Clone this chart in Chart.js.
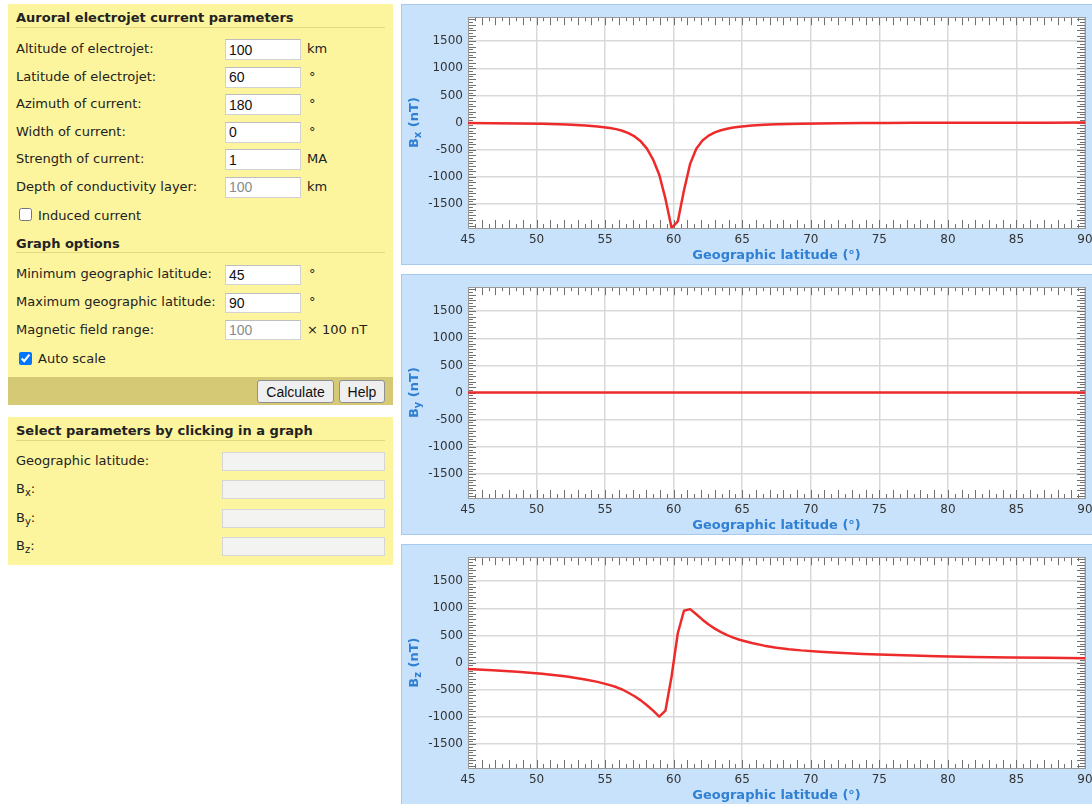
<!DOCTYPE html>
<html>
<head>
<meta charset="utf-8">
<title>Auroral electrojet</title>
<script src="https://cdn.jsdelivr.net/npm/chart.js@4.4.1/dist/chart.umd.min.js"></script>
<style>
html, body { margin:0; padding:0; background:#fff; width:1092px; height:804px; overflow:hidden; }
body { position:relative; font-family:"DejaVu Sans", Verdana, sans-serif; font-size:13px; color:#222; }
.panel { position:absolute; left:8px; width:385px; background:#fdf59e; }
.strip { position:absolute; left:8px; width:385px; background:#d5c975; }
.hdr { position:absolute; left:16px; font-weight:bold; line-height:16px; white-space:nowrap; }
.rule { position:absolute; left:16px; width:369px; height:1px; background:#e2d67e; }
.lbl { position:absolute; left:16px; line-height:16px; white-space:nowrap; }
.unit { position:absolute; left:307px; line-height:16px; white-space:nowrap; }
.in { position:absolute; left:225px; width:76px; height:21px; box-sizing:border-box; margin:0;
      border:1px solid #d2d2d2; border-top-color:#bdbdbd; background:#fff; color:#111;
      font:14px "Liberation Sans", Arial, sans-serif; padding:1px 3px; outline:none; }
.in.dim { color:#8a8a8a; }
.out { position:absolute; left:222px; width:163px; height:19px; box-sizing:border-box; margin:0;
       border:1px solid #d6d6d6; background:#f3f3f1; }
.cb { position:absolute; left:19px; width:13px; height:13px; margin:0; }
.btn { position:absolute; top:380px; height:23px; box-sizing:border-box; margin:0; padding:0 6px;
       font:14px "Liberation Sans", Arial, sans-serif; color:#111; background:#efefef;
       border:1px solid #8f8f8f; border-radius:3px; }
.box { position:absolute; left:401px; width:700px; box-sizing:border-box; background:#c8e2fb; border:1px solid #a7c9ec; }
canvas.plot { position:absolute; left:402px; }
sub { font-size:10px; vertical-align:-3px; line-height:0; }
</style>
</head>
<body>

<!-- parameter form -->
<div class="panel" style="top:4px;height:401px;"></div>
<div class="strip" style="top:377px;height:28px;"></div>
<div class="hdr" style="top:10px;">Auroral electrojet current parameters</div>
<div class="rule" style="top:27px;"></div>

<div class="lbl" style="top:41px;">Altitude of electrojet:</div>
<input class="in" style="top:39px;" value="100"><div class="unit" style="top:41px;">km</div>
<div class="lbl" style="top:68.5px;">Latitude of electrojet:</div>
<input class="in" style="top:66.5px;" value="60"><div class="unit" style="top:68.5px;left:309px;">°</div>
<div class="lbl" style="top:96px;">Azimuth of current:</div>
<input class="in" style="top:94px;" value="180"><div class="unit" style="top:96px;left:309px;">°</div>
<div class="lbl" style="top:123.5px;">Width of current:</div>
<input class="in" style="top:121.5px;" value="0"><div class="unit" style="top:123.5px;left:309px;">°</div>
<div class="lbl" style="top:151px;">Strength of current:</div>
<input class="in" style="top:149px;" value="1"><div class="unit" style="top:151px;">MA</div>
<div class="lbl" style="top:178.5px;">Depth of conductivity layer:</div>
<input class="in dim" style="top:176.5px;" value="100"><div class="unit" style="top:178.5px;">km</div>

<input type="checkbox" class="cb" style="top:208px;">
<div class="lbl" style="top:208px;left:38px;">Induced current</div>

<div class="hdr" style="top:236px;">Graph options</div>
<div class="rule" style="top:252px;"></div>

<div class="lbl" style="top:266px;">Minimum geographic latitude:</div>
<input class="in" style="top:264.5px;height:20px;" value="45"><div class="unit" style="top:266px;left:309px;">°</div>
<div class="lbl" style="top:294px;">Maximum geographic latitude:</div>
<input class="in" style="top:292.5px;height:20px;" value="90"><div class="unit" style="top:294px;left:309px;">°</div>
<div class="lbl" style="top:321.5px;">Magnetic field range:</div>
<input class="in dim" style="top:320px;height:20px;" value="100"><div class="unit" style="top:321.5px;">× 100 nT</div>

<input type="checkbox" class="cb" style="top:352px;" checked>
<div class="lbl" style="top:351px;left:38px;">Auto scale</div>

<button class="btn" style="left:257px;width:77px;">Calculate</button>
<button class="btn" style="left:339px;width:46px;">Help</button>

<!-- readout form -->
<div class="panel" style="top:417px;height:148px;"></div>
<div class="hdr" style="top:423px;">Select parameters by clicking in a graph</div>
<div class="rule" style="top:440px;"></div>
<div class="lbl" style="top:453px;">Geographic latitude:</div>
<div class="out" style="top:451.5px;"></div>
<div class="lbl" style="top:481px;">B<sub>x</sub>:</div>
<div class="out" style="top:480px;"></div>
<div class="lbl" style="top:509.5px;">B<sub>y</sub>:</div>
<div class="out" style="top:508.5px;"></div>
<div class="lbl" style="top:538px;">B<sub>z</sub>:</div>
<div class="out" style="top:537px;"></div>

<!-- field component plots -->
<div class="box" style="top:4px;height:261px;"></div>
<div class="box" style="top:274px;height:261px;"></div>
<div class="box" style="top:544px;height:270px;"></div>
<canvas class="plot" id="cx" width="698" height="259" style="top:5px;"></canvas>
<canvas class="plot" id="cy" width="698" height="259" style="top:275px;"></canvas>
<canvas class="plot" id="cz" width="698" height="259" style="top:545px;"></canvas>

<script>
// Geographic latitude of each sample (degrees)
const lat = [45, 46.8, 48.6, 50.4, 52.2, 53.55, 54.45, 55.35, 55.8, 56.25, 56.7, 57.15, 57.6, 58.05,
             58.5, 58.95, 59.4, 59.85, 60.3, 60.75, 61.2, 61.65, 62.1, 62.55, 63, 63.45, 63.9, 64.35,
             64.8, 65.7, 66.6, 67.5, 68.4, 69.3, 70.65, 72, 73.8, 75.6, 77.4, 79.2, 81.9, 84.6, 87.3, 90];

// Northward component Bx (nT)
const bx = [-8, -11, -16, -23, -35, -52, -70, -98, -120, -150, -195, -255, -345, -480,
            -680, -960, -1400, -1940, -1820, -1250, -760, -480, -330, -240, -180, -140, -112, -92,
            -76, -55, -41, -31, -25, -20, -15, -11, -8, -6, -4, -3, -2, -1, -1, 0];

// Eastward component By (nT)
const byLat = [45, 90];
const by = [0, 0];

// Vertical component Bz (nT)
const bz = [-118, -140, -168, -205, -255, -310, -355, -415, -450, -495, -555, -620, -695, -785,
            -885, -995, -885, -250, 540, 955, 985, 890, 790, 700, 625, 560, 505, 460,
            420, 360, 312, 275, 247, 225, 200, 180, 160, 145, 130, 118, 105, 95, 87, 80];

// Axis limits and labelled ticks
const latMin = 45, latMax = 90;
const fieldMax = 1940;
const xTicks = [45, 50, 55, 60, 65, 70, 75, 80, 85, 90];
const yTicks = [-1500, -1000, -500, 0, 500, 1000, 1500];
const xMinorStep = 0.5;
const yMinorStep = 50;

const BLUE = '#2f7fd3';
const FONT = '"DejaVu Sans", Verdana, sans-serif';

// White plotting area behind the grid
const plotBg = {
  id: 'plotBg',
  beforeDraw(chart) {
    const { ctx, chartArea: a } = chart;
    ctx.save();
    ctx.fillStyle = '#ffffff';
    ctx.fillRect(a.left, a.top, a.right - a.left, a.bottom - a.top);
    ctx.restore();
  }
};

// Small inward tick marks on all four sides of the plot frame
const frameTicks = {
  id: 'frameTicks',
  beforeDatasetsDraw(chart) {
    const { ctx, chartArea: a, scales: { x, y } } = chart;
    ctx.save();
    ctx.strokeStyle = '#707070';
    ctx.lineWidth = 1;
    ctx.beginPath();
    const nx = Math.round((latMax - latMin) / xMinorStep);
    for (let i = 0; i <= nx; i++) {
      const v = latMin + i * xMinorStep;
      const px = Math.round(x.getPixelForValue(v)) + 0.5;
      const len = (i % 2 === 0) ? 8 : 4;
      ctx.moveTo(px, a.top); ctx.lineTo(px, a.top + len);
      ctx.moveTo(px, a.bottom); ctx.lineTo(px, a.bottom - len);
    }
    const ny = Math.floor(fieldMax / yMinorStep);
    for (let i = -ny; i <= ny; i++) {
      const v = i * yMinorStep;
      const py = Math.round(y.getPixelForValue(v)) + 0.5;
      const len = (i % 2 === 0) ? 8 : 5;
      ctx.moveTo(a.left, py); ctx.lineTo(a.left + len, py);
      ctx.moveTo(a.right, py); ctx.lineTo(a.right - len, py);
    }
    ctx.stroke();
    ctx.strokeStyle = '#9a9a9a';
    ctx.strokeRect(Math.round(a.left) + 0.5, Math.round(a.top) + 0.5,
                   Math.round(a.right - a.left), Math.round(a.bottom - a.top));
    ctx.restore();
  }
};

// Rotated y-axis title with a subscripted component letter
const yTitle = {
  id: 'yTitle',
  afterDraw(chart, args, opts) {
    const { ctx, chartArea: a } = chart;
    const big = 'bold 13px ' + FONT, small = 'bold 10px ' + FONT;
    ctx.save();
    ctx.fillStyle = BLUE;
    ctx.textBaseline = 'alphabetic';
    ctx.font = big;  const wB = ctx.measureText('B').width;
    const wU = ctx.measureText(' (nT)').width;
    ctx.font = small; const wS = ctx.measureText(opts.sub).width;
    const total = wB + wS + wU;
    ctx.translate(opts.x, (a.top + a.bottom) / 2);
    ctx.rotate(-Math.PI / 2);
    let cx = -total / 2;
    ctx.font = big;  ctx.fillText('B', cx, 5); cx += wB;
    ctx.font = small; ctx.fillText(opts.sub, cx, 8); cx += wS;
    ctx.font = big;  ctx.fillText(' (nT)', cx, 5);
    ctx.restore();
  }
};

function makeChart(id, xs, ys, sub) {
  const pts = xs.map((v, i) => ({ x: v, y: ys[i] }));
  return new Chart(document.getElementById(id), {
    type: 'line',
    data: { datasets: [{ data: pts, borderColor: '#ee2b2b', borderWidth: 2.5,
                         pointRadius: 0, tension: 0, fill: false,
                         borderJoinStyle: 'round', borderCapStyle: 'round' }] },
    options: {
      responsive: false,
      animation: false,
      events: [],
      layout: { padding: { top: 11, right: 15, left: 0, bottom: 0 } },
      plugins: { legend: { display: false }, tooltip: { enabled: false },
                 yTitle: { sub: sub, x: 11 } },
      scales: {
        x: {
          type: 'linear', min: latMin, max: latMax,
          afterBuildTicks: s => { s.ticks = xTicks.map(v => ({ value: v })); },
          afterFit: s => { s.height = 36; },
          grid: { color: '#d9d9d9', lineWidth: 1.5, drawTicks: false },
          border: { display: false },
          ticks: { padding: 5, maxRotation: 0, autoSkip: false, color: '#333',
                   font: { family: FONT, size: 12 }, callback: v => String(v) },
          title: { display: true, text: 'Geographic latitude (°)', color: BLUE,
                   font: { family: FONT, size: 13, weight: 'bold' }, padding: { top: 0, bottom: 1 } }
        },
        y: {
          type: 'linear', min: -fieldMax, max: fieldMax,
          afterBuildTicks: s => { s.ticks = yTicks.map(v => ({ value: v })); },
          afterFit: s => { s.width = 66; },
          grid: { color: '#d9d9d9', lineWidth: 1.5, drawTicks: false },
          border: { display: false },
          ticks: { padding: 5, color: '#333', font: { family: FONT, size: 12 },
                   callback: v => String(v) }
        }
      }
    },
    plugins: [plotBg, frameTicks, yTitle]
  });
}

makeChart('cx', lat, bx, 'x');
makeChart('cy', byLat, by, 'y');
makeChart('cz', lat, bz, 'z');
</script>
</body>
</html>
